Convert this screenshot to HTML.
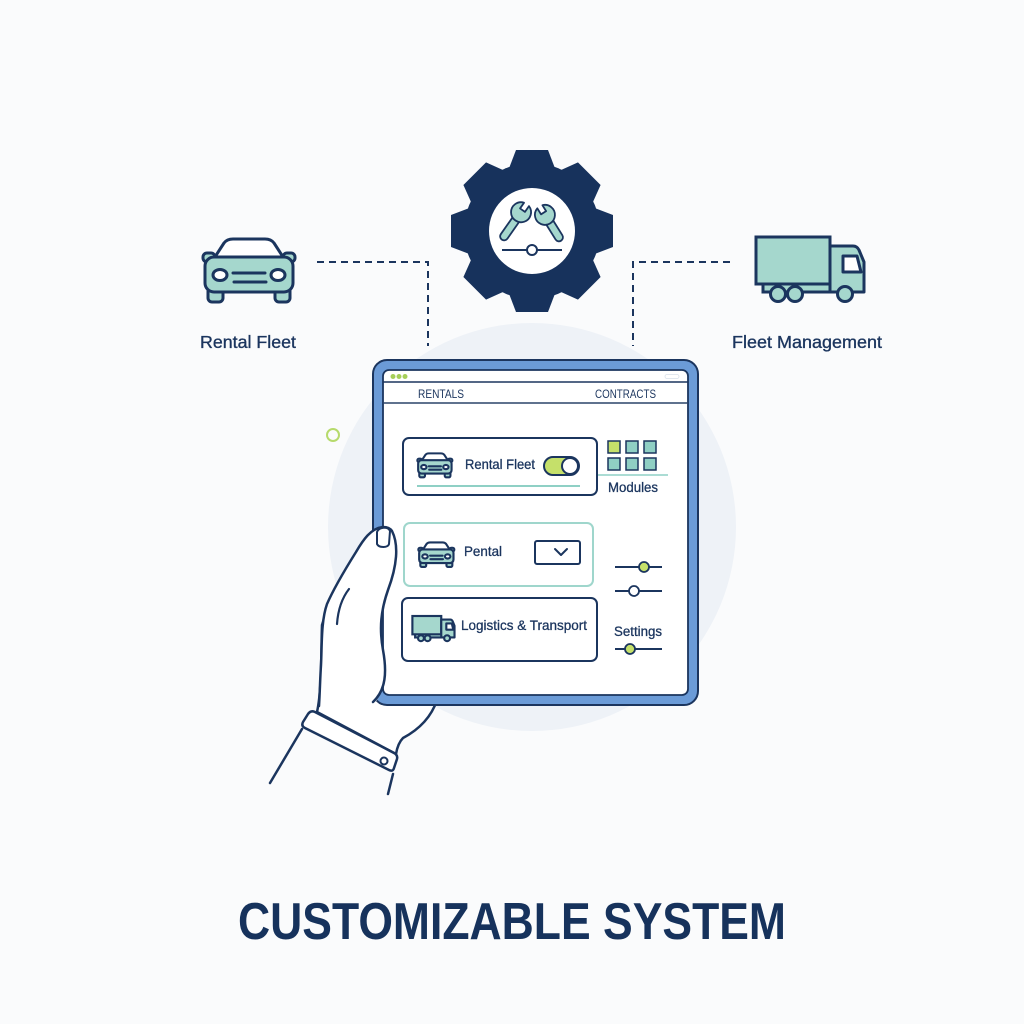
<!DOCTYPE html>
<html><head><meta charset="utf-8"><style>
html,body{margin:0;padding:0;background:#fafbfc;}
svg{display:block;}
text{font-family:"Liberation Sans",sans-serif;}
</style></head><body>
<svg width="1024" height="1024" viewBox="0 0 1024 1024" xmlns="http://www.w3.org/2000/svg">
<defs>
  <g id="car">
    <path d="M213,260 L224,243 Q227,239 233,239 L265,239 Q271,239 274,243 L285,260" fill="#ffffff" stroke="#1b355e" stroke-linejoin="round"/>
    <rect x="203" y="253" width="12" height="9" rx="4" fill="#a5d7cd" stroke="#1b355e"/>
    <rect x="283" y="253" width="12" height="9" rx="4" fill="#a5d7cd" stroke="#1b355e"/>
    <rect x="208" y="284" width="15" height="18" rx="4" fill="#a5d7cd" stroke="#1b355e"/>
    <rect x="275" y="284" width="15" height="18" rx="4" fill="#a5d7cd" stroke="#1b355e"/>
    <rect x="205" y="257" width="88" height="35" rx="9" fill="#a5d7cd" stroke="#1b355e"/>
    <ellipse cx="220" cy="275" rx="7" ry="5.5" fill="#ffffff" stroke="#1b355e"/>
    <ellipse cx="278" cy="275" rx="7" ry="5.5" fill="#ffffff" stroke="#1b355e"/>
    <line x1="233" y1="273" x2="265" y2="273" stroke="#1b355e" stroke-linecap="round"/>
    <line x1="234" y1="282" x2="266" y2="282" stroke="#1b355e" stroke-linecap="round"/>
  </g>
  <g id="truck">
    <rect x="763" y="282" width="70" height="10" fill="#a5d7cd" stroke="#1b355e"/>
    <rect x="756" y="237" width="74" height="47" fill="#a5d7cd" stroke="#1b355e"/>
    <path d="M830,292 L830,246 L853,246 Q857,246 859,250 L864,262 L864,292 Z" fill="#a5d7cd" stroke="#1b355e" stroke-linejoin="round"/>
    <path d="M843,256 L857,256 L861,272 L843,272 Z" fill="#ffffff" stroke="#1b355e" stroke-linejoin="round"/>
    <circle cx="778" cy="294" r="7.5" fill="#a5d7cd" stroke="#1b355e"/>
    <circle cx="795" cy="294" r="7.5" fill="#a5d7cd" stroke="#1b355e"/>
    <circle cx="845" cy="294" r="7.5" fill="#a5d7cd" stroke="#1b355e"/>
  </g>
  <path id="tooth" d="M-24,-60 L-16,-81 L16,-81 L24,-60 Z"/>
</defs>

<rect width="1024" height="1024" fill="#fafbfc"/>

<!-- background circle -->
<circle cx="532" cy="527" r="204" fill="#eef2f7"/>
<circle cx="333" cy="435" r="6" fill="none" stroke="#b6da6c" stroke-width="2"/>

<!-- dashed connectors -->
<path d="M317,262 L428,262 L428,346" fill="none" stroke="#1b355e" stroke-width="2" stroke-dasharray="7 5"/>
<path d="M730,262 L633,262 L633,346" fill="none" stroke="#1b355e" stroke-width="2" stroke-dasharray="7 5"/>

<!-- gear -->
<g transform="translate(532,231)" fill="#17325c">
  <circle r="68"/>
  <use href="#tooth"/>
  <use href="#tooth" transform="rotate(45)"/>
  <use href="#tooth" transform="rotate(90)"/>
  <use href="#tooth" transform="rotate(135)"/>
  <use href="#tooth" transform="rotate(180)"/>
  <use href="#tooth" transform="rotate(225)"/>
  <use href="#tooth" transform="rotate(270)"/>
  <use href="#tooth" transform="rotate(315)"/>
  <circle r="43" fill="#ffffff"/>
</g>
<!-- wrenches -->
<g transform="translate(503,238) rotate(35)" fill="#a5d7cd" stroke="#1b355e" stroke-width="1.8" stroke-linejoin="round">
  <rect x="-4" y="-26" width="8" height="28" rx="4"/>
  <path d="M-3,-41 A10 10 0 1 0 3,-41 L3,-34 L-3,-34 Z"/>
</g>
<g transform="translate(560,239) rotate(-32)" fill="#a5d7cd" stroke="#1b355e" stroke-width="1.8" stroke-linejoin="round">
  <rect x="-4" y="-23" width="8" height="25" rx="4"/>
  <path d="M-3,-38 A10 10 0 1 0 3,-38 L3,-31 L-3,-31 Z"/>
</g>
<line x1="502" y1="250" x2="562" y2="250" stroke="#1b355e" stroke-width="2"/>
<circle cx="532" cy="250" r="5" fill="#ffffff" stroke="#1b355e" stroke-width="2"/>

<!-- big car & truck -->
<g stroke-width="3"><use href="#car"/></g>
<g stroke-width="3"><use href="#truck"/></g>

<text x="200" y="348" font-size="17.5" fill="#1b355e" stroke="#1b355e" stroke-width="0.35" textLength="96" lengthAdjust="spacingAndGlyphs">Rental Fleet</text>
<text x="732" y="348" font-size="17.5" fill="#1b355e" stroke="#1b355e" stroke-width="0.35" textLength="150" lengthAdjust="spacingAndGlyphs">Fleet Management</text>

<!-- palm behind tablet -->
<path d="M330,600 L322,625 C321,650 322,690 317,712 L396,754 C397,748 399,742 403,738 C418,730 431,718 437,700 L437,600 Z" fill="#ffffff" stroke="#1b355e" stroke-width="2.5" stroke-linejoin="round"/>

<!-- tablet -->
<rect x="373" y="360" width="325" height="345" rx="14" fill="#6b9bd7" stroke="#1b355e" stroke-width="2"/>
<rect x="383" y="370" width="305" height="325" rx="6" fill="#ffffff" stroke="#1b355e" stroke-width="1.8"/>
<line x1="383" y1="382" x2="688" y2="382" stroke="#1b355e" stroke-width="1.5"/>
<line x1="383" y1="403" x2="688" y2="403" stroke="#2a4468" stroke-width="1.5"/>
<circle cx="393" cy="376.5" r="2.5" fill="#a6cf5a"/>
<circle cx="399" cy="376.5" r="2.5" fill="#a6cf5a"/>
<circle cx="405" cy="376.5" r="2.5" fill="#a6cf5a"/>
<rect x="665" y="374.5" width="14" height="4" rx="2" fill="#ffffff" stroke="#d8e0ea" stroke-width="0.8"/>
<text x="418" y="398" font-size="12" fill="#1b355e" textLength="46" lengthAdjust="spacingAndGlyphs">RENTALS</text>
<text x="595" y="398" font-size="12" fill="#1b355e" textLength="61" lengthAdjust="spacingAndGlyphs">CONTRACTS</text>

<!-- card 1 -->
<rect x="403" y="438" width="194" height="57" rx="6" fill="#ffffff" stroke="#1b355e" stroke-width="2"/>
<g stroke-width="5.5" transform="translate(417,453) scale(0.38) translate(-202,-238)"><use href="#car"/></g>
<text x="465" y="469" font-size="14" fill="#1b355e" stroke="#1b355e" stroke-width="0.3" textLength="70" lengthAdjust="spacingAndGlyphs">Rental Fleet</text>
<rect x="544" y="457" width="35" height="18" rx="9" fill="#c5e06a" stroke="#1b355e" stroke-width="2"/>
<circle cx="570" cy="466" r="8" fill="#ffffff" stroke="#1b355e" stroke-width="2"/>
<line x1="417" y1="486" x2="580" y2="486" stroke="#8fd0c5" stroke-width="2"/>

<!-- modules -->
<g stroke="#1b355e" stroke-width="1.5">
  <rect x="608" y="441" width="12" height="12" fill="#c5e06a"/>
  <rect x="626" y="441" width="12" height="12" fill="#8fcfc4"/>
  <rect x="644" y="441" width="12" height="12" fill="#8fcfc4"/>
  <rect x="608" y="458" width="12" height="12" fill="#8fcfc4"/>
  <rect x="626" y="458" width="12" height="12" fill="#8fcfc4"/>
  <rect x="644" y="458" width="12" height="12" fill="#8fcfc4"/>
</g>
<line x1="598" y1="475" x2="668" y2="475" stroke="#8fd0c5" stroke-width="1.5"/>
<text x="608" y="492" font-size="13.5" fill="#1b355e" stroke="#1b355e" stroke-width="0.3" textLength="50" lengthAdjust="spacingAndGlyphs">Modules</text>

<!-- card 2 -->
<rect x="404" y="523" width="189" height="63" rx="6" fill="#ffffff" stroke="#9fd6cc" stroke-width="2"/>
<g stroke-width="5.5" transform="translate(418,542) scale(0.39) translate(-202,-238)"><use href="#car"/></g>
<text x="464" y="556" font-size="14" fill="#1b355e" stroke="#1b355e" stroke-width="0.3" textLength="38" lengthAdjust="spacingAndGlyphs">Pental</text>
<rect x="535" y="541" width="45" height="23" rx="2" fill="#ffffff" stroke="#1b355e" stroke-width="2"/>
<polyline points="555,549 561,555 567,549" fill="none" stroke="#1b355e" stroke-width="2" stroke-linecap="round" stroke-linejoin="round"/>

<!-- sliders -->
<line x1="615" y1="567" x2="662" y2="567" stroke="#1b355e" stroke-width="2"/>
<circle cx="644" cy="567" r="5" fill="#c5e06a" stroke="#1b355e" stroke-width="1.8"/>
<line x1="615" y1="591" x2="662" y2="591" stroke="#1b355e" stroke-width="2"/>
<circle cx="634" cy="591" r="5" fill="#ffffff" stroke="#1b355e" stroke-width="1.8"/>
<text x="614" y="636" font-size="13.5" fill="#1b355e" stroke="#1b355e" stroke-width="0.3" textLength="48" lengthAdjust="spacingAndGlyphs">Settings</text>
<line x1="615" y1="649" x2="662" y2="649" stroke="#1b355e" stroke-width="2"/>
<circle cx="630" cy="649" r="5" fill="#c5e06a" stroke="#1b355e" stroke-width="1.8"/>

<!-- card 3 -->
<rect x="402" y="598" width="195" height="63" rx="6" fill="#ffffff" stroke="#1b355e" stroke-width="2"/>
<g stroke-width="5.5" transform="translate(412,616) scale(0.39) translate(-755,-237)"><use href="#truck"/></g>
<text x="461" y="630" font-size="14" fill="#1b355e" stroke="#1b355e" stroke-width="0.3" textLength="126" lengthAdjust="spacingAndGlyphs">Logistics &amp; Transport</text>

<!-- thumb in front -->
<path d="M383,527 C371,528 363,540 356,552 C346,568 334,588 327,604 C321,621 322,645 321,665 C320,685 320,698 319,704 L374,704 C386,690 387,672 383,650 C379,628 381,610 388,590 C397,566 399,545 392,531 C390,528 387,527 383,527 Z" fill="#ffffff"/>
<path d="M319,706 C320,690 320,680 321,665 C322,645 321,621 327,604 C334,588 346,568 356,552 C363,540 371,528 383,527 C387,527 390,528 392,531 C399,545 397,566 388,590 C381,610 379,628 383,650 C387,672 386,690 373,702" fill="none" stroke="#1b355e" stroke-width="2.5" stroke-linecap="round" stroke-linejoin="round"/>
<path d="M377,532 C379,527 388,526 390,531 L389,544 C388,548 379,548 377,544 Z" fill="#ffffff" stroke="#1b355e" stroke-width="2" stroke-linejoin="round"/>
<path d="M337,624 C338,610 342,598 349,589" fill="none" stroke="#1b355e" stroke-width="2.2" stroke-linecap="round"/>

<!-- cuff & sleeve -->
<path d="M315,712 L394,753 Q398,755 397,759 L394,768 Q393,772 389,770 L305,728 Q301,726 303,722 L308,714 Q311,710 315,712 Z" fill="#ffffff" stroke="#1b355e" stroke-width="2.5" stroke-linejoin="round"/>
<circle cx="384" cy="761" r="3.5" fill="#ffffff" stroke="#1b355e" stroke-width="2"/>
<line x1="302" y1="729" x2="270" y2="783" stroke="#1b355e" stroke-width="2.5" stroke-linecap="round"/>
<line x1="393" y1="774" x2="388" y2="794" stroke="#1b355e" stroke-width="2.5" stroke-linecap="round"/>

<!-- title -->
<text x="238" y="939" font-size="52" font-weight="bold" fill="#16325c" textLength="548" lengthAdjust="spacingAndGlyphs">CUSTOMIZABLE SYSTEM</text>
</svg>
</body></html>
